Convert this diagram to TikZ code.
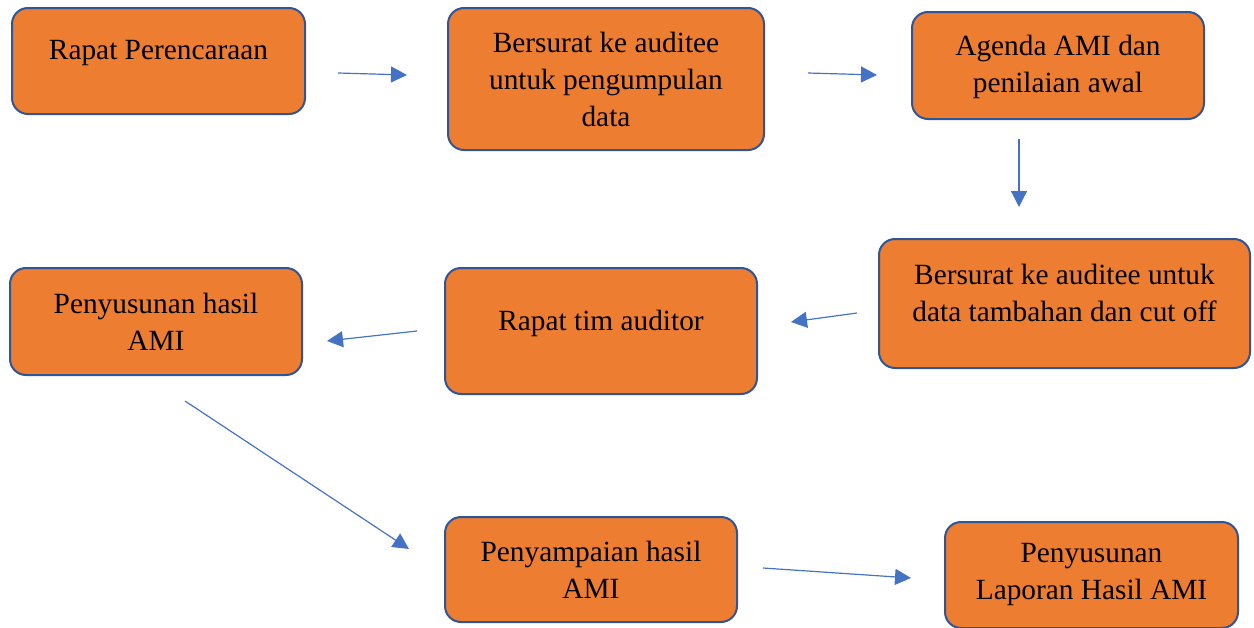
\documentclass[tikz,border=0pt]{standalone}
\usepackage{fontspec}
\setmainfont{Liberation Serif}
\usetikzlibrary{arrows.meta}
\definecolor{boxfill}{HTML}{ED7D31}
\definecolor{boxline}{HTML}{2F5597}
\definecolor{arrline}{HTML}{4472C4}

\begin{document}
\begin{tikzpicture}[x=0.75pt,y=-0.75pt]

  \tikzset{every node/.style={font=\fontsize{22}{27.75}\selectfont,align=center},
    box/.style={draw=boxline,line width=1.5pt,fill=boxfill,rounded corners=12pt},
    arr/.style={draw=arrline,line width=0.9pt,-{Triangle[length=12pt,width=12pt]}}}
  \useasboundingbox (0,0) rectangle (1254,628);

  \node[box,minimum width=219.75pt,minimum height=79.5pt,text depth=16.5pt] (n1) at (158.5,61)
    {Rapat Perencaraan};
  \node[box,minimum width=237pt,minimum height=106.5pt] (n2) at (606,79)
    {Bersurat ke auditee \\ untuk pengumpulan \\ data};
  \node[box,minimum width=219pt,minimum height=80.25pt,text depth=3pt] (n3) at (1058,65.5)
    {Agenda AMI dan \\ penilaian awal};
  \node[box,minimum width=278.25pt,minimum height=96.75pt,text depth=16.5pt] (n4) at (1064.5,303.5)
    {Bersurat ke auditee untuk \\ data tambahan dan cut off};
  \node[box,minimum width=234pt,minimum height=94.5pt,text depth=15.5pt] (n5) at (601,331)
    {Rapat tim auditor};
  \node[box,minimum width=219pt,minimum height=80.25pt] (n6) at (156,321.5)
    {Penyusunan hasil \\ AMI};
  \node[box,minimum width=219pt,minimum height=78.75pt] (n7) at (591,569.5)
    {Penyampaian hasil \\ AMI};
  \node[box,minimum width=219.75pt,minimum height=79.5pt] (n8) at (1091.5,575)
    {Penyusunan \\ Laporan Hasil AMI};

  \foreach \from/\fs/\to/\ts in {n1.east/{32,12}/n2.west/{-40,-4},
      n2.east/{43,-6}/n3.west/{-34,9.5},
      n3.south/{-39,19}/n4.north/{-45.5,-31},
      n4.west/{-21,9.5}/n5.east/{33,-9},
      n5.west/{-27,0}/n6.east/{24,19.5},
      n6.south/{29,25}/n7.west/{-35,-20.5},
      n7.east/{25,-1.5}/n8.west/{-33,3}}
    \draw[arr] ([shift={(\fs)}]\from) -- ([shift={(\ts)}]\to);

\end{tikzpicture}
\end{document}
